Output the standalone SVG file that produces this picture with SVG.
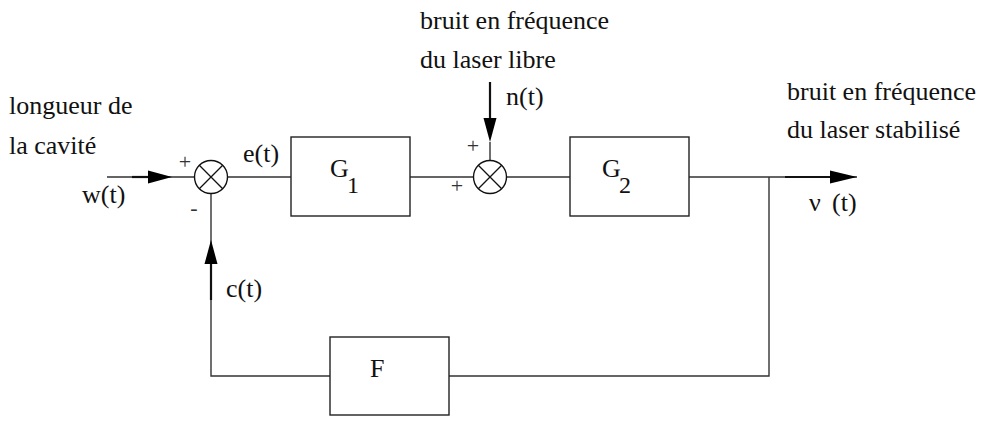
<svg xmlns="http://www.w3.org/2000/svg" width="981" height="422" viewBox="0 0 981 422">
<style>
text{font-family:"Liberation Serif","Times New Roman",serif;font-size:26px;fill:#111}
.sm{font-size:22px;fill:#333}
.box{fill:#fff;stroke:#222;stroke-width:1.4}
.sum{fill:#fff;stroke:#111;stroke-width:1.4}
.x{stroke:#111;stroke-width:1.3}
.ln{fill:none;stroke:#333;stroke-width:1.4}
.th{fill:none;stroke:#111;stroke-width:2.2}
.ah{fill:#000}
</style>
<rect width="981" height="422" fill="#fff"/>
<g id="connectors">
<path class="ln" d="M107 177H194M228 177H291M410 177H473.5M506.5 177H570M689 177H857"/>
<path class="ln" d="M769 177V376H449M330 376H211V193"/>
<path class="ln" d="M490 142V160.5"/>
<path class="th" d="M132 177H152"/>
<path class="ah" d="M172 177L148 170.5L148 183.5Z"/>
<path class="th" d="M490 82V122"/>
<path class="ah" d="M490 142L483.5 118L496.5 118Z"/>
<path class="th" d="M785 177H837"/>
<path class="ah" d="M857 177L830 170.5L830 183.5Z"/>
<path class="th" d="M211 300V260"/>
<path class="ah" d="M211 240L204.5 264L217.5 264Z"/>
</g>
<g id="sum1">
<circle class="sum" cx="211" cy="177" r="16.5"/>
<path class="x" d="M199.3 165.3L222.7 188.7M222.7 165.3L199.3 188.7"/>
<text class="sm" x="185" y="169" text-anchor="middle">+</text>
<text class="sm" x="194" y="215" text-anchor="middle">-</text>
</g>
<g id="sum2">
<circle class="sum" cx="490" cy="177" r="16.5"/>
<path class="x" d="M478.3 165.3L501.7 188.7M501.7 165.3L478.3 188.7"/>
<text class="sm" x="473" y="153" text-anchor="middle">+</text>
<text class="sm" x="457" y="193" text-anchor="middle">+</text>
</g>
<g id="G1">
<rect class="box" x="291" y="137" width="119" height="79"/>
<text x="330" y="177">G</text>
<text x="347" y="193" style="font-size:24px">1</text>
</g>
<g id="G2">
<rect class="box" x="570" y="137" width="119" height="79"/>
<text x="602" y="177">G</text>
<text x="619" y="193" style="font-size:24px">2</text>
</g>
<g id="F">
<rect class="box" x="330" y="337" width="119" height="78"/>
<text x="370" y="377">F</text>
</g>
<g id="labels">
<text x="9" y="114">longueur de</text>
<text x="9" y="154">la cavité</text>
<text x="82" y="203">w(t)</text>
<text x="243" y="162">e(t)</text>
<text x="420" y="29">bruit en fréquence</text>
<text x="420" y="68">du laser libre</text>
<text x="506" y="105">n(t)</text>
<text x="787" y="100">bruit en fréquence</text>
<text x="787" y="138">du laser stabilisé</text>
<text x="809" y="211">ν<tspan x="832">(t)</tspan></text>
<text x="226" y="297">c(t)</text>
</g>
</svg>
